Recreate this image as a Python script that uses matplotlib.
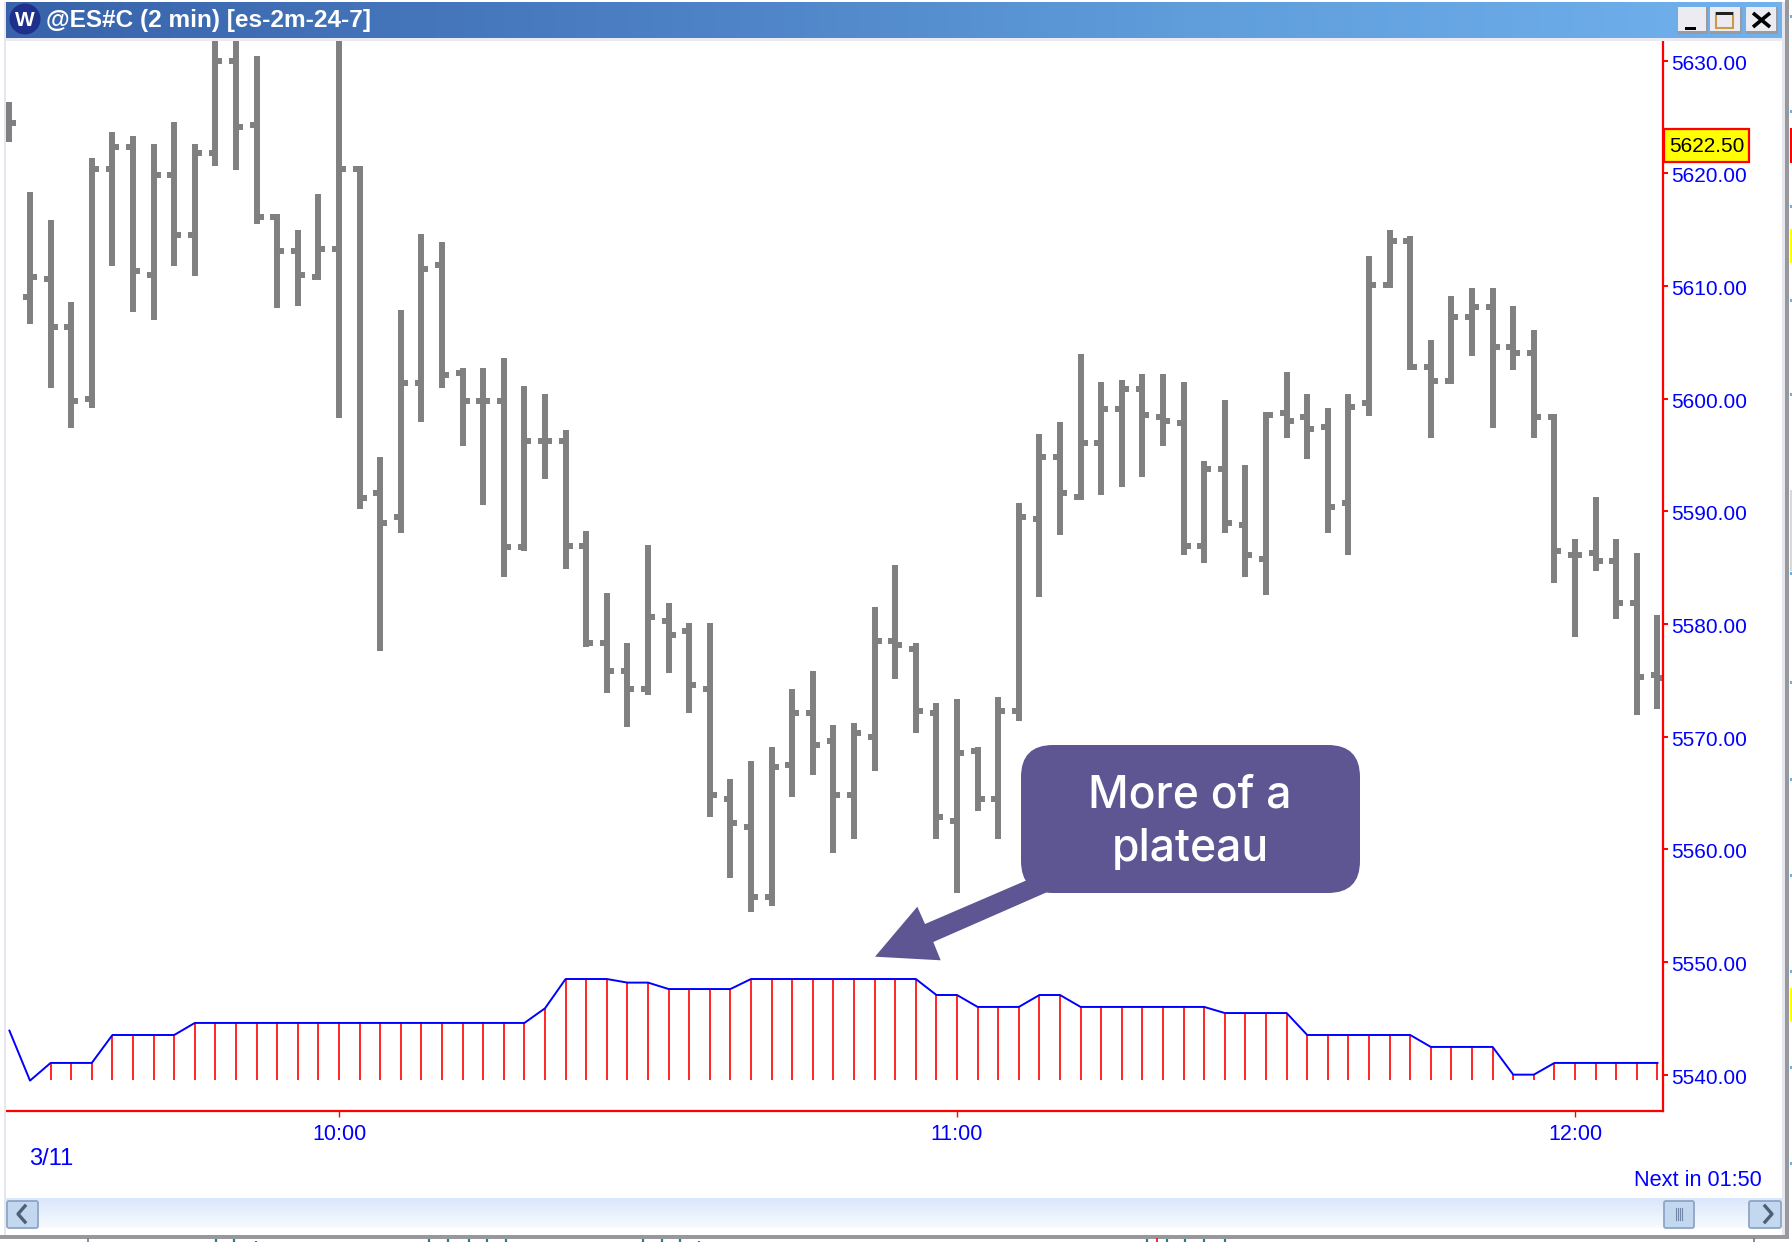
import numpy as np
import matplotlib
matplotlib.use('Agg')
import matplotlib.pyplot as plt
from matplotlib.patches import Rectangle, FancyBboxPatch, Polygon, Circle
from matplotlib.colors import LinearSegmentedColormap
from matplotlib.transforms import ScaledTranslation

W, H = 1792, 1242

# OHLC bars, 2 minute bars starting 9:28
opens = [5623.05, 5609.05, 5610.65, 5606.40, 5600.00, 5620.41, 5622.37, 5611.00, 5619.88, 5614.56,
         5621.83, 5630.00, 5624.32, 5616.15, 5613.14, 5610.83, 5613.31, 5620.41, 5591.60, 5589.47,
         5601.42, 5611.89, 5602.31, 5599.82, 5599.82, 5586.80, 5596.27, 5596.27, 5586.95, 5578.28,
         5575.80, 5574.20, 5580.24, 5579.35, 5574.20, 5564.44, 5561.95, 5555.74, 5567.46, 5572.07,
         5569.59, 5564.79, 5569.94, 5578.46, 5577.75, 5572.07, 5562.49, 5568.70, 5564.44, 5572.25,
         5589.29, 5594.79, 5591.24, 5596.09, 5599.11, 5600.89, 5598.40, 5597.87, 5586.95, 5593.76,
         5588.76, 5585.74, 5598.76, 5598.40, 5597.51, 5590.71, 5599.64, 5610.12, 5614.02, 5602.84,
         5601.60, 5607.28, 5608.17, 5604.62, 5604.08, 5598.40, 5586.09, 5586.27, 5585.56, 5581.83,
         5575.44]
highs = [5626.33, 5618.34, 5615.86, 5608.58, 5621.36, 5623.67, 5623.31, 5622.60, 5624.56, 5622.60,
         5633.00, 5633.00, 5630.41, 5616.39, 5614.97, 5618.17, 5633.00, 5620.65, 5594.85, 5607.87,
         5614.62, 5613.91, 5602.72, 5602.72, 5603.61, 5601.12, 5600.41, 5597.22, 5588.28, 5582.78,
         5578.34, 5587.04, 5581.89, 5580.12, 5580.12, 5566.27, 5567.87, 5569.11, 5574.26, 5575.86,
         5571.07, 5571.24, 5581.54, 5585.27, 5578.34, 5573.02, 5573.37, 5569.11, 5573.55, 5590.77,
         5596.86, 5597.93, 5603.96, 5601.48, 5601.66, 5602.19, 5602.19, 5601.48, 5594.50, 5599.88,
         5594.14, 5598.82, 5602.37, 5600.41, 5599.17, 5600.41, 5612.66, 5614.97, 5614.44, 5605.21,
         5609.11, 5609.82, 5609.82, 5608.22, 5606.09, 5598.64, 5587.57, 5591.30, 5587.57, 5586.33,
         5580.83]
lows = [5622.78, 5606.63, 5600.95, 5597.40, 5599.17, 5611.78, 5607.69, 5606.98, 5611.78, 5610.89,
        5620.65, 5620.30, 5615.50, 5608.05, 5608.22, 5610.53, 5598.28, 5590.24, 5577.63, 5588.11,
        5597.93, 5600.95, 5595.80, 5590.59, 5584.20, 5586.51, 5592.90, 5584.91, 5577.99, 5573.91,
        5570.89, 5573.73, 5575.68, 5572.13, 5562.90, 5557.49, 5554.44, 5554.98, 5564.67, 5566.63,
        5559.70, 5560.95, 5566.98, 5575.15, 5570.35, 5560.95, 5556.15, 5563.43, 5560.95, 5571.42,
        5582.43, 5587.93, 5591.00, 5591.48, 5592.19, 5593.08, 5595.80, 5586.15, 5585.44, 5588.11,
        5584.20, 5582.60, 5596.51, 5594.67, 5588.11, 5586.15, 5598.46, 5609.82, 5602.54, 5596.51,
        5601.30, 5603.79, 5597.40, 5602.54, 5596.51, 5583.67, 5578.88, 5584.73, 5580.47, 5571.95,
        5572.49]
closes = [5624.50, 5610.83, 5606.40, 5599.82, 5620.41, 5622.37, 5611.36, 5619.88, 5614.56, 5621.83,
          5630.00, 5624.14, 5616.15, 5613.14, 5611.00, 5613.31, 5620.41, 5591.21, 5588.93, 5601.42,
          5611.54, 5602.13, 5599.82, 5599.82, 5586.80, 5596.27, 5596.27, 5586.95, 5578.28, 5575.80,
          5574.20, 5580.59, 5578.99, 5574.56, 5564.79, 5562.31, 5555.80, 5567.28, 5572.07, 5569.23,
          5564.79, 5570.30, 5578.46, 5578.11, 5572.25, 5562.84, 5568.52, 5564.44, 5572.25, 5589.47,
          5594.79, 5591.60, 5596.10, 5599.11, 5600.89, 5598.58, 5598.05, 5586.95, 5593.76, 5588.93,
          5586.09, 5598.55, 5598.05, 5597.34, 5590.36, 5599.29, 5610.12, 5614.02, 5602.84, 5601.60,
          5607.28, 5608.17, 5604.62, 5604.08, 5598.40, 5586.45, 5586.09, 5585.56, 5581.83, 5575.27,
          5575.20]

# stepped indicator at the bottom, one value per bar
indicator = [5543.91, 5539.47, 5541.04, 5541.04, 5541.04, 5543.52, 5543.52, 5543.52, 5543.52, 5544.59,
             5544.59, 5544.59, 5544.59, 5544.59, 5544.59, 5544.59, 5544.59, 5544.59, 5544.59, 5544.59,
             5544.59, 5544.59, 5544.59, 5544.59, 5544.59, 5544.59, 5545.89, 5548.49, 5548.49, 5548.49,
             5548.17, 5548.17, 5547.60, 5547.60, 5547.60, 5547.60, 5548.49, 5548.49, 5548.49, 5548.49,
             5548.49, 5548.49, 5548.49, 5548.49, 5548.49, 5547.07, 5547.07, 5546.01, 5546.01, 5546.01,
             5547.07, 5547.07, 5546.01, 5546.01, 5546.01, 5546.01, 5546.01, 5546.01, 5546.01, 5545.47,
             5545.47, 5545.47, 5545.47, 5543.52, 5543.52, 5543.52, 5543.52, 5543.52, 5543.52, 5542.46,
             5542.46, 5542.46, 5542.46, 5540.00, 5540.00, 5541.04, 5541.04, 5541.04, 5541.04, 5541.04,
             5541.04]
stick_base = 5539.53

price_ticks = [5540, 5550, 5560, 5570, 5580, 5590, 5600, 5610, 5620, 5630]
time_ticks = [16, 46, 76]
time_labels = ['10:00', '11:00', '12:00']
last_price = '5622.50'

UI_FONT = ['Liberation Sans', 'DejaVu Sans']
BLUE = '#0000ff'
RED = '#ff0000'
GREY = '#808080'
PURPLE = '#5e5693'

fig = plt.figure(figsize=(W / 100, H / 100), dpi=100, facecolor='white')


def px_axes(left, right, top, bottom):
    return fig.add_axes([left / W, 1 - bottom / H, (right - left) / W, (bottom - top) / H])


# price chart, pixel limits of the plot area were measured on the screenshot
ax = px_axes(6, 1663, 40, 1110.7)
ax.set_xlim(-0.165, 80.27)
ax.set_ylim(5536.8, 5631.84)

x = np.arange(len(opens))
ax.vlines(x, lows, highs, color=GREY, lw=4.3, capstyle='butt')
ax.hlines(opens, x - 0.335, x, color=GREY, lw=4.3, capstyle='butt')
ax.hlines(closes, x, x + 0.335, color=GREY, lw=4.3, capstyle='butt')

ax.vlines(x[2:], stick_base, indicator[2:], color=RED, lw=1.2)
ax.plot(x, indicator, color=BLUE, lw=1.4)

for side in ['left', 'top']:
    ax.spines[side].set_visible(False)
for side in ['right', 'bottom']:
    ax.spines[side].set_color(RED)
    ax.spines[side].set_linewidth(1.6)

ax.yaxis.tick_right()
ax.set_yticks(price_ticks)
ax.set_yticklabels(['%.2f' % p for p in price_ticks], fontfamily=UI_FONT)
ax.set_xticks(time_ticks)
ax.set_xticklabels(time_labels, fontfamily=UI_FONT)
ax.tick_params(axis='y', colors=RED, labelcolor=BLUE, labelsize=15, length=3.5, width=1.4, pad=2.5)
ax.tick_params(axis='x', colors=RED, labelcolor=BLUE, labelsize=15.5, length=4, width=1, pad=5.5)
# price labels sit a touch under their ticks
for lab in ax.get_yticklabels():
    lab.set_transform(lab.get_transform() + ScaledTranslation(0, -1.5 / 100, fig.dpi_scale_trans))

# overlay in screenshot pixels for the window chrome and the callout
ov = fig.add_axes([0, 0, 1, 1], zorder=5)
ov.patch.set_alpha(0)
ov.axis('off')

title_cmap = LinearSegmentedColormap.from_list('title', ['#3863ab', '#4a7dc2', '#5f9ddb', '#71b1ee'])
ov.imshow(np.linspace(0, 1, 256).reshape(1, -1), extent=[6, 1782, 38, 2], aspect='auto', cmap=title_cmap)
bar_cmap = LinearSegmentedColormap.from_list('scroll', ['#d9e7fb', '#e8f1fd', '#f8fbff'])
ov.imshow(np.linspace(0, 1, 64).reshape(-1, 1), extent=[6, 1783, 1228, 1198], aspect='auto', cmap=bar_cmap)
ov.set_xlim(0, W)
ov.set_ylim(H, 0)

# frame lines
ov.add_patch(Rectangle((3.5, 2), 2.5, 1233, fc='#e6e6ee', ec='none'))
ov.add_patch(Rectangle((6, 38), 1776, 2.5, fc='#ebe9f2', ec='none'))
ov.add_patch(Rectangle((1782, 2), 3, 1233, fc='#e6e6ee', ec='none'))
ov.add_patch(Rectangle((1785, 0), 4, 1238, fc='#98989c', ec='none'))
ov.add_patch(Rectangle((0, 1235), 1789, 3.5, fc='#98989c', ec='none'))

# title bar
ov.add_patch(Circle((25, 19), 15.5, fc='#1e2f8c', ec='none'))
ov.text(25, 20, 'W', color='white', fontsize=15, fontweight='bold', ha='center', va='center',
        family=UI_FONT)
ov.text(46, 20, '@ES#C (2 min) [es-2m-24-7]', color='white', fontsize=17.6, va='center',
        family=UI_FONT, fontweight='bold')

for bx0, bx1 in [(1678, 1708), (1710, 1742), (1746, 1778)]:
    ov.add_patch(Rectangle((bx0, 7), bx1 - bx0, 27, fc='#9b9b9f', ec='none'))
    ov.add_patch(Rectangle((bx0, 7), bx1 - bx0 - 2.5, 24, fc='#ecebf1', ec='none'))
ov.add_patch(Rectangle((1685, 27), 11, 3, fc='black', ec='none'))
ov.add_patch(Rectangle((1716, 13), 17, 15, fc='#ecebf1', ec='#c89a4a', lw=1.5))
ov.add_patch(Rectangle((1716, 12), 17, 3, fc='#222222', ec='none'))
ov.plot([1753, 1770], [13, 27], color='black', lw=2.6, solid_capstyle='butt')
ov.plot([1753, 1770], [27, 13], color='black', lw=2.6, solid_capstyle='butt')

# current price box on the axis
ov.add_patch(Rectangle((1664, 129), 85, 33, fc='#ffff00', ec=RED, lw=1.6))
ov.text(1706.5, 146, last_price, color='black', fontsize=15, ha='center', va='center', family=UI_FONT)

# small blue date and countdown texts
ov.text(51.7, 1159, '3/11', color=BLUE, fontsize=17, ha='center', va='center', family=UI_FONT)
ov.text(1762, 1180, 'Next in 01:50', color=BLUE, fontsize=15.7, ha='right', va='center', family=UI_FONT)

# scroll bar buttons
for bx0, bx1 in [(6, 39), (1663, 1695), (1748, 1782)]:
    ov.add_patch(FancyBboxPatch((bx0 + 1, 1201), bx1 - bx0 - 2, 27, boxstyle='round,pad=0,rounding_size=2',
                                fc='#c3d7ef', ec='#8ea5c4', lw=1.3))
ov.plot([25, 18, 25], [1206, 1214, 1222], color='#4e5f78', lw=2.4)
ov.plot([1765, 1772, 1765], [1206, 1214, 1222], color='#4e5f78', lw=2.4)
for gx in [1676, 1678, 1680, 1682]:
    ov.plot([gx, gx], [1208, 1220], color='#7088a8', lw=0.8)

# callout with arrow
ov.add_patch(FancyBboxPatch((1021, 745), 339, 148, boxstyle='round,pad=0,rounding_size=32',
                            fc=PURPLE, ec='none'))
ov.add_patch(Polygon([(875, 956.7), (917.3, 906.7), (925, 924), (1027.3, 880), (1046.7, 892.3),
                      (933.3, 942), (940.7, 960.3)], closed=True, fc=PURPLE, ec='none'))
ov.text(1190, 807, 'More of a', color='white', fontsize=32, ha='center', va='baseline',
        family=['Inter', 'DejaVu Sans'], fontweight='medium')
ov.text(1190, 861, 'plateau', color='white', fontsize=32, ha='center', va='baseline',
        family=['Inter', 'DejaVu Sans'], fontweight='medium')

# bits of other windows showing at the screenshot edges
for ty in [16, 111, 206, 300, 394, 573, 682, 779, 875, 971, 1067, 1163]:
    ov.add_patch(Rectangle((1790, ty - 1), 2, 2.5, fc='#6aaee8', ec='none'))
ov.add_patch(Rectangle((1790, 128), 2, 35, fc=RED, ec='none'))
for by0, by1 in [(229, 263), (988, 1022)]:
    ov.add_patch(Rectangle((1790, by0), 2, by1 - by0, fc='#ffff00', ec='none'))
ov.add_patch(Rectangle((1790, 490), 2, 81, fc='#d8d8dc', ec='none'))
for tx in [216, 234, 429, 448, 469, 487, 506, 643, 662, 680, 1147, 1167, 1185, 1204, 1225]:
    ov.plot([tx, tx], [1238.5, 1242], color='#0a8a8a', lw=1.6, solid_capstyle='butt')
for tx in [256, 699]:
    ov.plot([tx, tx], [1240.5, 1242], color='#0a8a8a', lw=1.6, solid_capstyle='butt')
ov.plot([1157, 1157], [1238.5, 1242], color=RED, lw=1.2)
for tx in [88, 1754]:
    ov.plot([tx, tx], [1238.5, 1242], color='#777777', lw=1.2)

fig.savefig('out.png', dpi=100, facecolor='white')
